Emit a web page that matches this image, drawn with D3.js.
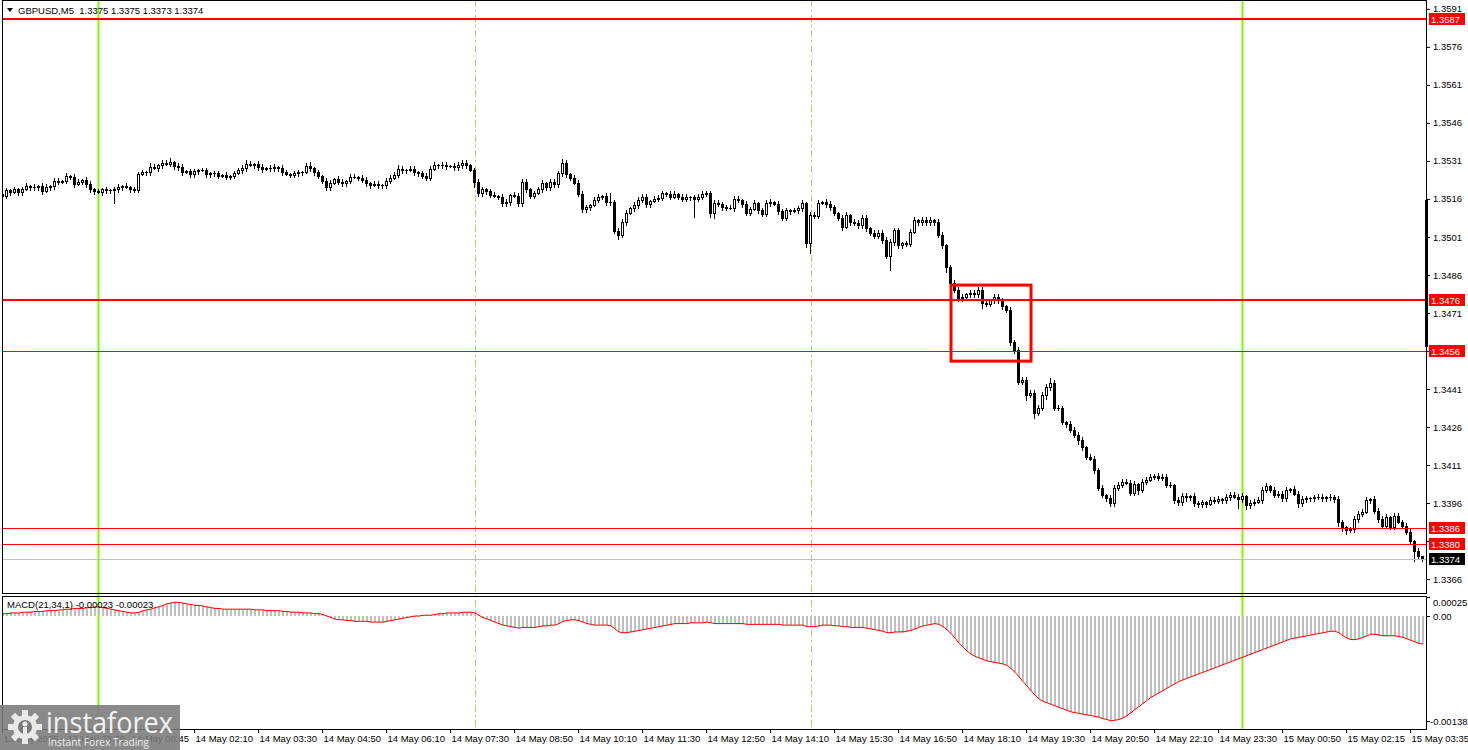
<!DOCTYPE html>
<html><head><meta charset="utf-8">
<script src="https://cdn.jsdelivr.net/npm/d3@7"></script>
<style>body{margin:0;background:#fff}svg{display:block}text{font-family:"Liberation Sans",Arial,sans-serif}</style>
</head><body><svg id="c" width="1468" height="750"></svg>
<script>
// ---------- DATA ----------
const symbolTitle = "GBPUSD,M5  1.3375 1.3375 1.3373 1.3374";
const macdTitle = "MACD(21,34,1) -0.00023 -0.00023";
const firstOpen = 1.35180;
const closes = [
1.35172,1.35195,1.35187,1.35199,1.35187,1.35199,1.35211,1.35207,1.35207,1.35211,
1.35191,1.35207,1.35211,1.35231,1.35227,1.35231,1.35251,1.35247,1.35219,1.35227,
1.35235,1.35219,1.35199,1.35191,1.35187,1.35199,1.35195,1.35195,1.35199,1.35207,
1.35211,1.35207,1.35199,1.35197,1.35258,1.35266,1.35266,1.35286,1.35282,1.35294,
1.35302,1.35298,1.35306,1.35290,1.35286,1.35266,1.35270,1.35258,1.35270,1.35274,
1.35274,1.35258,1.35262,1.35262,1.35251,1.35255,1.35247,1.35251,1.35262,1.35274,
1.35282,1.35298,1.35294,1.35298,1.35286,1.35278,1.35282,1.35282,1.35286,1.35282,
1.35266,1.35258,1.35255,1.35262,1.35266,1.35266,1.35290,1.35282,1.35266,1.35251,
1.35231,1.35207,1.35223,1.35239,1.35227,1.35223,1.35231,1.35247,1.35247,1.35243,
1.35235,1.35223,1.35215,1.35219,1.35215,1.35215,1.35231,1.35243,1.35255,1.35278,
1.35274,1.35274,1.35278,1.35266,1.35262,1.35251,1.35243,1.35278,1.35294,1.35294,
1.35294,1.35290,1.35290,1.35286,1.35294,1.35302,1.35294,1.35274,1.35227,1.35183,
1.35199,1.35191,1.35176,1.35172,1.35168,1.35144,1.35148,1.35176,1.35172,1.35144,
1.35227,1.35199,1.35172,1.35183,1.35199,1.35223,1.35207,1.35227,1.35219,1.35262,
1.35302,1.35258,1.35243,1.35223,1.35180,1.35120,1.35128,1.35136,1.35156,1.35168,
1.35172,1.35148,1.35146,1.35034,1.35018,1.35069,1.35105,1.35124,1.35136,1.35156,
1.35168,1.35140,1.35152,1.35160,1.35164,1.35183,1.35180,1.35168,1.35180,1.35168,
1.35160,1.35168,1.35166,1.35160,1.35168,1.35180,1.35183,1.35105,1.35144,1.35142,
1.35128,1.35126,1.35124,1.35160,1.35156,1.35140,1.35105,1.35120,1.35144,1.35116,
1.35101,1.35144,1.35148,1.35140,1.35112,1.35085,1.35116,1.35112,1.35116,1.35124,
1.35144,1.34986,1.35097,1.35093,1.35144,1.35148,1.35140,1.35128,1.35105,1.35085,
1.35049,1.35097,1.35069,1.35067,1.35057,1.35085,1.35045,1.35026,1.35014,1.35026,
1.34998,1.34935,1.34990,1.35037,1.34978,1.34986,1.34984,1.35030,1.35077,1.35069,
1.35077,1.35069,1.35077,1.35069,1.35018,1.34978,1.34891,1.34829,1.34802,1.34769,
1.34773,1.34785,1.34789,1.34785,1.34802,1.34749,1.34747,1.34761,1.34773,1.34761,
1.34737,1.34722,1.34595,1.34564,1.34438,1.34446,1.34387,1.34395,1.34316,1.34336,
1.34387,1.34418,1.34434,1.34336,1.34334,1.34280,1.34272,1.34249,1.34229,1.34209,
1.34181,1.34142,1.34134,1.34090,1.34020,1.33992,1.33980,1.33960,1.34020,1.34032,
1.34044,1.34040,1.34000,1.34036,1.34012,1.34044,1.34052,1.34064,1.34068,1.34060,
1.34064,1.34032,1.34030,1.33972,1.33964,1.33988,1.33984,1.33988,1.33960,1.33956,
1.33964,1.33956,1.33972,1.33970,1.33976,1.33972,1.33984,1.33992,1.33984,1.33976,
1.33988,1.33952,1.33962,1.33966,1.33972,1.34012,1.34028,1.34012,1.33992,1.33996,
1.33980,1.34012,1.34016,1.33996,1.33960,1.33976,1.33978,1.33980,1.33982,1.33984,
1.33980,1.33984,1.33982,1.33976,1.33885,1.33866,1.33854,1.33856,1.33897,1.33917,
1.33925,1.33972,1.33976,1.33929,1.33897,1.33870,1.33905,1.33866,1.33909,1.33885,
1.33870,1.33846,1.33810,1.33771,1.33752,1.33740];
// wick lengths above / below the body, in pips
const wickUp = [
1,1,0.5,1,0.5,1,1,0.5,1,0.5,1,1,0.5,1,1,0.5,1,0.5,1,1,
0.5,1,1,0.5,1,0.5,1,0.5,1,1,0.5,1,0.5,1,1,1,0.5,1.5,1,0.5,
1,1,1.5,0.5,1,1,0.5,1,1,0.5,1,1,0.5,1,1,0.5,1,0.5,1,1,
1,1.5,1,0.5,1,1,0.5,1,1,0.5,1,1,0.5,1,1,0.5,1,1.5,0.5,1,
0.5,1,1,0.5,1,1,0.5,1,1,0.5,1,1,0.5,1,1,0.5,1,1,1,1.5,
1,0.5,1,1,0.5,1,1,1,1,0.5,1,1,0.5,1,1,1,1,0.5,1,1,
1,0.5,1,1,0.5,1,1,0.5,1,1,1,1,0.5,1,1,1,0.5,1,1,1,
1.5,1,0.5,1,1,1,1,0.5,1,1,0.5,1,3.5,1,1,1,1,0.5,1,1,
1,1,0.5,1,1,1,0.5,1,1,0.5,1,1,0.5,1,1,1,1,1,1,1,
0.5,1,1,1,1,0.5,1,1,1,0.5,1,1,1,0.5,1,1,1,0.5,1,1,
1,0.5,1,1,1,0.5,1,1,1,0.5,1,1,0.5,1,1,1,1,0.5,1,1,
1,1,1,1,1,0.5,1,1,1,0.5,1,1,1,0.5,1,1,0.5,1,1,1,
1,0.5,1,1,1,1,1,0.5,1,1,1,0.5,1,1,1,1,1,1,1,1,
1,1,2,1,1,1,0.5,1,1,1,1,0.5,1,1,1,1,0.5,1,1,1,
1,1,1,1,0.5,1,1,1,0.5,1,1,1,1,0.5,1,1,1,0.5,1,1,
1,0.5,1,1,1,0.5,1,1,1,1,1,0.5,1,1,1,1,1,0.5,1,1,
1,1,0.5,1,1,1,1,0.5,1,1,1,0.5,1,1,1,1,0.5,1,1,1,
1,1,0.5,1,1,1,1,0.5,1,1,1,1,1,0.5,1,0];
const wickDn = [
1,1,1,0.5,1,1,0.5,1,1,1,1,0.5,1,1,1,0.5,1,1,1,0.5,
1,1,1,1,0.5,1,1,1,5,1,1,0.5,1,1,1,0.5,1,1,0.5,1,
1,0.5,1,1,1,1,0.5,1,1,1,0.5,1,1,1,1,0.5,1,1,1,0.5,
1,1,0.5,1,1,1,0.5,1,1,1,1,0.5,1,1,1,1,0.5,1,1,1,
1,1,1,0.5,1,1,1,1,0.5,1,1,1,1,0.5,1,1,1,1,0.5,1,
1,1,0.5,1,1,1,1,1,0.5,1,1,1,0.5,1,1,1,1,0.5,2,1,
1,1,1,0.5,1,1,1,1,0.5,1,1,1,1,1,0.5,1,1,1,1,1,
1,1,1,0.5,1,1,1,1,0.5,1,1,1,1,1,1.5,1,1,0.5,1,1,
1,1,1,0.5,1,1,1,1,0.5,1,1,1,1,7,1,1,1,1.5,2,1,
1,1,0.5,1,1,1,1,1,0.5,1,1,1,1,0.5,1,1,1,1,0.5,1,
1,1.5,4,1,1,0.5,1,1,1,1,1,0.5,1,1,1,1,1,1,1,1,
1,1,5.5,1,1,1,1,1,0.5,1,1,1,1,1,1,1,2,2,1,1,
1,1,1,1,1,2,1,1,1,1,1,1,1,1,1,1,2,1,2,1,
1,1.5,1,1,0.5,1,1,1,1,1.5,1,1,0.5,1,1,1,1,1,1,1,
1,0.5,1,1,1.5,1,1,0.5,1,1,1,1,0.5,1,1,1,1.5,1,1,1,
1,1,0.5,1,1,1,1,1,0.5,3.5,1,1.5,1,1,0.5,1,1,1,1,1,
1,1,1,0.5,1.5,1,1,1,1,0.5,1,1,1,1,1.5,1.5,1.5,1,1,1,
1,0.5,1,1,1,1,1,1,1,0.5,1,1,1,4,1,1];
// MACD main values, in units of 0.00001
const macdValues = [
3,3,4,4,4,5,5,5,6,6, 6,7,7,7,8,8,9,9,10,10, 10,11,11,12,12,11,10,9,8,7, 6,5,4,4,5,7,8,9,11,12,
14,16,17,18,18,17,16,15,14,14, 13,12,11,10,10,9,9,9,9,9, 9,9,9,8,8,8,7,7,7,7, 6,6,5,5,5,4,4,4,3,3,
2,0,-2,-4,-5,-5,-6,-6,-7,-7, -7,-7,-8,-8,-8,-8,-7,-6,-5,-4, -3,-2,-1,0,0,1,1,1,2,3, 3,4,4,4,4,5,5,5,4,1,
-2,-4,-6,-8,-10,-12,-13,-14,-15,-16, -15,-15,-15,-15,-14,-13,-13,-12,-12,-10, -7,-6,-5,-5,-6,-8,-10,-11,-12,-12,
-12,-12,-13,-17,-21,-22,-22,-21,-20,-19, -18,-17,-16,-15,-14,-13,-12,-11,-10,-10, -10,-10,-9,-9,-9,-9,-8,-9,-10,-10,
-10,-10,-10,-10,-10,-10,-11,-11,-11,-11, -11,-11,-11,-11,-11,-12,-12,-12,-12,-12, -12,-14,-14,-14,-13,-12,-12,-12,-13,-13,
-14,-14,-15,-15,-15,-15,-16,-17,-18,-19, -20,-22,-22,-21,-21,-21,-20,-19,-17,-15, -13,-12,-11,-10,-11,-14,-18,-23,-29,-36,
-41,-46,-50,-53,-55,-57,-59,-60,-61,-62, -63,-65,-69,-74,-80,-86,-92,-98,-104,-109, -112,-114,-116,-118,-120,-122,-124,-126,-127,-128,
-129,-130,-131,-132,-133,-135,-136,-138,-137,-136, -134,-131,-127,-123,-119,-115,-111,-107,-104,-101, -98,-95,-92,-89,-86,-84,-82,-80,-78,-76,
-74,-72,-70,-68,-66,-64,-62,-60,-58,-56, -54,-52,-50,-48,-46,-44,-42,-40,-38,-36, -34,-32,-30,-29,-28,-27,-26,-25,-24,-23,
-22,-21,-20,-20,-22,-26,-29,-31,-31,-30, -28,-26,-24,-24,-25,-26,-26,-26,-26,-27, -28,-30,-32,-34,-36,-37];
const priceTicks = [1.3591,1.3576,1.3561,1.3546,1.3531,1.3516,1.3501,1.3486,1.3471,1.3456,1.3441,1.3426,1.3411,1.3396,1.3381,1.3366];
const macdTicks = [0.00025, 0, -0.00138];
const macdTickLabels = ["0.00025","0.00","-0.00138"];
const timeTickIdx = [0,16,32,48,64,80,96,112,128,144,160,176,192,208,224,240,256,272,288,304,320,336,352];
const timeLabels = ["13 May 2025","13 May 23:20","14 May 00:45","14 May 02:10","14 May 03:30","14 May 04:50","14 May 06:10","14 May 07:30","14 May 08:50","14 May 10:10","14 May 11:30","14 May 12:50","14 May 14:10","14 May 15:30","14 May 16:50","14 May 18:10","14 May 19:30","14 May 20:50","14 May 22:10","14 May 23:30","15 May 00:50","15 May 02:15","15 May 03:35"];
const levelPrices = [1.3587, 1.3476, 1.3456, 1.3386, 1.3380];
const levelWidths = [2, 2, 1, 1, 1];
const bidPrice = 1.3374;
const greenLineIdx = [24, 310];
const dashedLineIdx = [118.25, 202.25];
const boxIdx = [237.25, 257.25];
const boxPrices = [1.3482, 1.3452];
const edgeBarPrices = [1.35156, 1.34576];

// ---------- LAYOUT ----------
const W = 1468, H = 750;
const PL = 2, PR = 1426, MAIN_B = 593, MACD_T = 596, AX_Y = 729;
const svg = d3.select('#c');
svg.append('rect').attr('width', W).attr('height', H).attr('fill', '#fff');

const x = d3.scaleLinear().domain([0, 355]).range([2, 1422]);
const y = d3.scaleLinear().domain([1.3587, 1.3456]).range([19, 351]);
const ym = d3.scaleLinear().domain([0, -0.00138]).range([616, 721]);

const defs = svg.append('defs');
defs.append('clipPath').attr('id', 'cm').append('rect').attr('x', PL + 1).attr('y', 1).attr('width', PR - PL - 1).attr('height', MAIN_B - 1);
defs.append('clipPath').attr('id', 'cd').append('rect').attr('x', PL + 1).attr('y', MACD_T + 1).attr('width', PR - PL - 1).attr('height', AX_Y - MACD_T - 1);

const bars = closes.map((c, i) => {
  const o = i ? closes[i - 1] : firstOpen;
  return { i, o, c, h: Math.max(o, c) + wickUp[i] * 1e-4, l: Math.min(o, c) - wickDn[i] * 1e-4 };
});

// ---------- MAIN PANEL ----------
const gLines = svg.append('g');
greenLineIdx.forEach(i => {
  const xx = Math.round(x(i)) + 0.5;
  gLines.append('line').attr('x1', xx).attr('x2', xx).attr('y1', 0).attr('y2', AX_Y)
    .attr('stroke', '#7CFC00').attr('stroke-width', 2);
});
dashedLineIdx.forEach(i => {
  const xx = Math.round(x(i)) + 0.5;
  gLines.append('line').attr('x1', xx).attr('x2', xx).attr('y1', 0).attr('y2', AX_Y)
    .attr('stroke', '#9be05a').attr('stroke-width', 1).attr('stroke-dasharray', '7,3,2,3');
});

const gc = svg.append('g').attr('clip-path', 'url(#cm)').attr('shape-rendering', 'crispEdges');
bars.forEach(b => {
  const cx = Math.round(x(b.i));
  gc.append('line').attr('x1', cx + 0.5).attr('x2', cx + 0.5)
    .attr('y1', Math.round(y(b.h))).attr('y2', Math.round(y(b.l)) + 1).attr('stroke', '#000');
  const top = Math.round(y(Math.max(b.o, b.c)));
  const bot = Math.round(y(Math.min(b.o, b.c)));
  const hgt = bot - top;
  if (hgt < 1) {
    gc.append('rect').attr('x', cx - 1).attr('y', top).attr('width', 3).attr('height', 1).attr('fill', '#000');
  } else if (b.c < b.o) {
    gc.append('rect').attr('x', cx - 1).attr('y', top).attr('width', 3).attr('height', hgt + 1).attr('fill', '#000');
  } else {
    gc.append('rect').attr('x', cx - 0.5).attr('y', top + 0.5).attr('width', 2).attr('height', hgt)
      .attr('fill', '#fff').attr('stroke', '#000').attr('stroke-width', 1);
  }
});

// horizontal levels
const gl = svg.append('g').attr('clip-path', 'url(#cm)');
gl.append('line').attr('x1', PL).attr('x2', PR).attr('y1', Math.round(y(bidPrice)) + 0.5).attr('y2', Math.round(y(bidPrice)) + 0.5)
  .attr('stroke', '#c0c0c0').attr('stroke-width', 1);
levelPrices.forEach((p, k) => {
  const yy = Math.round(y(p)) + (levelWidths[k] === 1 ? 0.5 : 0);
  gl.append('line').attr('x1', PL).attr('x2', PR).attr('y1', yy).attr('y2', yy)
    .attr('stroke', '#ff0000').attr('stroke-width', levelWidths[k]);
});
gl.append('rect').attr('x', x(boxIdx[0])).attr('y', y(boxPrices[0]))
  .attr('width', x(boxIdx[1]) - x(boxIdx[0])).attr('height', y(boxPrices[1]) - y(boxPrices[0]))
  .attr('fill', 'none').attr('stroke', '#ff0000').attr('stroke-width', 3);

// ---------- MACD PANEL ----------
const gd = svg.append('g').attr('clip-path', 'url(#cd)').attr('shape-rendering', 'crispEdges');
macdValues.forEach((v, i) => {
  const cx = Math.round(x(i));
  const y0 = ym(0), y1 = ym(v * 1e-5);
  gd.append('rect').attr('x', cx).attr('y', Math.round(Math.min(y0, y1))).attr('width', 2)
    .attr('height', Math.max(1, Math.round(Math.abs(y1 - y0)))).attr('fill', '#c0c0c0');
});
svg.append('g').attr('clip-path', 'url(#cd)').append('path')
  .datum(macdValues)
  .attr('d', d3.line().x((v, i) => Math.round(x(i)) + 1).y(v => ym(v * 1e-5)))
  .attr('fill', 'none').attr('stroke', '#ff0000').attr('stroke-width', 1);

// ---------- FRAMES ----------
const fr = svg.append('g').attr('fill', 'none').attr('stroke', '#000').attr('shape-rendering', 'crispEdges');
fr.append('rect').attr('x', PL + 0.5).attr('y', 0.5).attr('width', PR - PL).attr('height', MAIN_B);
fr.append('rect').attr('x', PL + 0.5).attr('y', MACD_T + 0.5).attr('width', PR - PL).attr('height', AX_Y - MACD_T);
svg.append('rect').attr('x', PR - 1).attr('y', y(edgeBarPrices[0])).attr('width', 3)
  .attr('height', y(edgeBarPrices[1]) - y(edgeBarPrices[0])).attr('fill', '#000');

// ---------- AXES ----------
const fontSize = '9.5px';
const ax = svg.append('g').attr('transform', `translate(${PR},0)`)
  .call(d3.axisRight(y).tickValues(priceTicks).tickSize(4).tickPadding(3).tickFormat(d3.format('.4f')));
ax.select('.domain').remove();
ax.selectAll('text').style('font-size', fontSize).attr('fill', '#000');

const axm = svg.append('g').attr('transform', `translate(${PR},0)`)
  .call(d3.axisRight(ym).tickValues(macdTicks).tickSize(4).tickPadding(3).tickFormat((d, k) => macdTickLabels[k]));
axm.select('.domain').remove();
axm.selectAll('text').style('font-size', fontSize).attr('fill', '#000');
axm.selectAll('.tick').filter((d, k) => k === 0).select('text').attr('dy', '0.95em');
axm.selectAll('.tick').filter((d, k) => k === 2).select('text').attr('x', 4);

const axx = svg.append('g').attr('transform', `translate(0,${AX_Y})`)
  .call(d3.axisBottom(x).tickValues(timeTickIdx).tickSize(4).tickPadding(2).tickFormat((d, k) => timeLabels[k]));
axx.select('.domain').remove();
axx.selectAll('text').style('font-size', fontSize).attr('fill', '#000').attr('text-anchor', 'start').attr('x', 1);
svg.append('line').attr('x1', PL).attr('x2', PR).attr('y1', AX_Y + 0.5).attr('y2', AX_Y + 0.5).attr('stroke', '#000');

// price tags on the right axis
function tag(p, bg) {
  const yy = Math.round(y(p));
  svg.append('rect').attr('x', PR + 3).attr('y', yy - 6).attr('width', 36).attr('height', 12).attr('fill', bg);
  svg.append('text').attr('x', PR + 5).attr('y', yy + 3.5).text(d3.format('.4f')(p))
    .style('font-size', fontSize).attr('fill', '#fff');
}
levelPrices.forEach(p => tag(p, '#ff0000'));
tag(bidPrice, '#000');

// ---------- TITLES ----------
svg.append('path').attr('d', 'M7,8 L13,8 L10,12 Z').attr('fill', '#000');
svg.append('text').attr('x', 18).attr('y', 14).text(symbolTitle).style('font-size', fontSize).attr('fill', '#000').attr('xml:space', 'preserve');
svg.append('text').attr('x', 7).attr('y', 608).text(macdTitle).style('font-size', fontSize).attr('fill', '#000');

// ---------- WATERMARK ----------
const wm = svg.append('g');
wm.append('rect').attr('x', 0).attr('y', 705).attr('width', 180).attr('height', 45).attr('fill', '#7a7a7a').attr('opacity', 0.88);
const gear = wm.append('g').attr('transform', 'translate(25,727)');
for (let k = 0; k < 8; k++) {
  gear.append('rect').attr('x', -3).attr('y', -17).attr('width', 6).attr('height', 8)
    .attr('fill', '#e9e9e9').attr('transform', `rotate(${k * 45})`);
}
gear.append('circle').attr('r', 12).attr('fill', '#e9e9e9');
gear.append('circle').attr('r', 7).attr('fill', '#7a7a7a');
gear.append('circle').attr('cy', -3).attr('r', 2.5).attr('fill', '#e9e9e9');
gear.append('rect').attr('x', -2).attr('y', 0).attr('width', 4).attr('height', 12).attr('fill', '#e9e9e9');
wm.append('text').attr('x', 46).attr('y', 733).text('instaforex')
  .style('font-family', '"Open Sans",sans-serif').style('font-size', '30px').attr('fill', '#f2f2f2')
  .attr('textLength', 127).attr('lengthAdjust', 'spacingAndGlyphs');
wm.append('text').attr('x', 48).attr('y', 746).text('Instant Forex Trading')
  .style('font-family', '"Open Sans",sans-serif').style('font-size', '11px').attr('fill', '#f2f2f2')
  .attr('textLength', 101).attr('lengthAdjust', 'spacingAndGlyphs');
</script></body></html>
